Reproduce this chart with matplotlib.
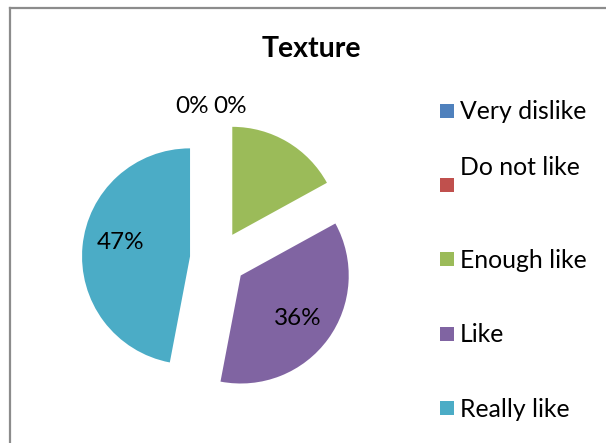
import matplotlib
matplotlib.use("Agg")
import numpy as np
import matplotlib.pyplot as plt
from matplotlib.patches import Rectangle
from matplotlib.lines import Line2D

# Survey answers for the texture question
categories = ["Very dislike", "Do not like", "Enough like", "Like", "Really like"]
shares = [0, 0, 17, 36, 47]
pct_labels = ["0%", "0%", "", "36%", "47%"]
colors = ["#4F81BD", "#C0504D", "#9BBB59", "#8064A2", "#4BACC6"]

W, H = 606, 443
plt.rcParams["font.family"] = ["Lato", "DejaVu Sans"]
fig = plt.figure(figsize=(W / 100, H / 100), dpi=100)


def fx(px):
    return px / W


def fy(py):
    return 1 - py / H


# chart frame (top and left edges)
frame = dict(color="#8c8c8c", linewidth=1.6, transform=fig.transFigure)
fig.add_artist(Line2D([fx(10), 1], [fy(7.5), fy(7.5)], **frame))
fig.add_artist(Line2D([fx(10), fx(10)], [fy(7.5), 0], **frame))

# pie axes: one data unit equals the pie radius in pixels
cx, cy, R = 218, 259, 108
ax = fig.add_axes([0, 0, 1, 1])
explode = [0.26] * len(shares)
wedges, _ = ax.pie(shares, colors=colors, startangle=90, counterclock=False,
                   explode=explode, radius=1, wedgeprops=dict(linewidth=0))
ax.set_xlim(-cx / R, (W - cx) / R)
ax.set_ylim((cy - H) / R, cy / R)
ax.set_aspect("equal")
ax.axis("off")

# value labels (zero slices are labelled above the pie)
zero_pos = [(-0.24, 1.43), (0.11, 1.43)]
nudge = {4: (0.0, 0.09)}
zi = 0
for i, (w, val, lab) in enumerate(zip(wedges, shares, pct_labels)):
    if not lab:
        continue
    if val == 0:
        x, y = zero_pos[zi]
        zi += 1
    else:
        mid = np.deg2rad((w.theta1 + w.theta2) / 2)
        dx, dy = nudge.get(i, (0.0, 0.0))
        x = w.center[0] + 0.65 * np.cos(mid) + dx
        y = w.center[1] + 0.65 * np.sin(mid) + dy
    ax.text(x, y, lab, ha="center", va="center_baseline", fontsize=17.5,
            color="black")

# title
fig.text(fx(311), fy(56.7), "Texture", ha="center", va="baseline",
         fontsize=20.5, fontweight="bold")

# legend
for i, (cat, col) in enumerate(zip(categories, colors)):
    my = 110.5 + i * 74.4
    fig.add_artist(Rectangle((fx(440), fy(my + 7)), 14 / W, 14 / H,
                             facecolor=col, edgecolor="none",
                             transform=fig.transFigure))
    base = my - 10 if i == 1 else my + 8.5
    fig.text(fx(460), fy(base), cat, ha="left", va="baseline", fontsize=17.8)

fig.savefig("out.png", dpi=100)
